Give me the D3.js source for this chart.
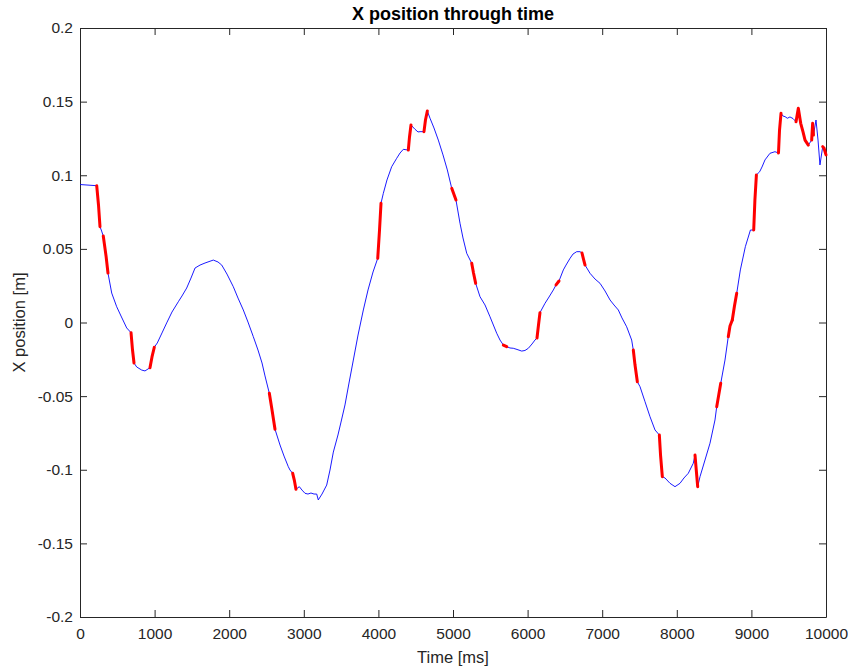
<!DOCTYPE html>
<html>
<head>
<meta charset="utf-8">
<script src="https://cdn.jsdelivr.net/npm/d3@7"></script>
<style>
  body { margin: 0; background: #fff; }
  svg { display: block; font-family: "Liberation Sans", Arial, Helvetica, sans-serif; }
</style>
</head>
<body>
<svg id="chart" width="848" height="670"></svg>
<script>
// Time samples [ms]
const timeMs = [0, 224, 248, 268, 290, 312, 349, 375, 425, 492, 550, 626, 684, 704, 724, 760, 827, 871, 938, 965, 996, 1036, 1099, 1162, 1233, 1318, 1367, 1430, 1488, 1542, 1609, 1676, 1787, 1850, 1900, 1970, 2055, 2118, 2189, 2252, 2323, 2386, 2440, 2480, 2538, 2574, 2614, 2681, 2735, 2792, 2815, 2851, 2875, 2895, 2940, 2976, 3016, 3056, 3096, 3137, 3173, 3194, 3244, 3307, 3351, 3396, 3458, 3499, 3552, 3606, 3664, 3727, 3798, 3861, 3928, 3991, 4015, 4035, 4066, 4115, 4178, 4245, 4290, 4334, 4401, 4417, 4437, 4491, 4531, 4558, 4611, 4631, 4656, 4692, 4745, 4803, 4866, 4924, 4983, 5040, 5094, 5134, 5184, 5251, 5275, 5304, 5362, 5429, 5496, 5586, 5630, 5675, 5720, 5764, 5808, 5858, 5921, 5965, 6010, 6059, 6099, 6126, 6146, 6166, 6233, 6287, 6345, 6381, 6421, 6479, 6515, 6569, 6609, 6658, 6703, 6729, 6749, 6770, 6837, 6904, 6971, 7038, 7105, 7158, 7216, 7265, 7328, 7395, 7417, 7440, 7471, 7507, 7574, 7641, 7708, 7766, 7782, 7806, 7842, 7909, 7976, 8043, 8096, 8154, 8221, 8244, 8261, 8280, 8311, 8378, 8445, 8512, 8535, 8562, 8589, 8646, 8690, 8713, 8744, 8773, 8803, 8852, 8919, 8987, 9031, 9047, 9067, 9111, 9142, 9182, 9249, 9316, 9363, 9377, 9397, 9424, 9451, 9482, 9517, 9558, 9598, 9629, 9661, 9692, 9719, 9763, 9808, 9821, 9832, 9866, 9893, 9919, 9956, 9973, 10000];

// X position [m]
const xPosition = [0.0937, 0.0929, 0.0798, 0.0651, 0.0621, 0.0587, 0.0452, 0.0336, 0.0200, 0.0107, 0.0044, -0.0037, -0.0069, -0.0187, -0.0275, -0.0302, -0.0323, -0.0329, -0.0307, -0.0234, -0.0168, -0.0139, -0.0071, -0.0003, 0.0071, 0.0141, 0.0180, 0.0234, 0.0302, 0.0370, 0.0390, 0.0404, 0.0424, 0.0411, 0.0390, 0.0329, 0.0243, 0.0166, 0.0085, 0.0003, -0.0096, -0.0187, -0.0275, -0.0363, -0.0481, -0.0594, -0.0725, -0.0832, -0.0907, -0.0979, -0.1002, -0.1024, -0.1076, -0.1133, -0.1115, -0.1138, -0.1160, -0.1165, -0.1158, -0.1165, -0.1165, -0.1205, -0.1165, -0.1104, -0.1002, -0.0880, -0.0764, -0.0676, -0.0560, -0.0411, -0.0255, -0.0085, 0.0085, 0.0221, 0.0343, 0.0436, 0.0628, 0.0810, 0.0877, 0.0968, 0.1058, 0.1115, 0.1151, 0.1176, 0.1171, 0.1260, 0.1341, 0.1312, 0.1294, 0.1296, 0.1296, 0.1375, 0.1436, 0.1387, 0.1321, 0.1239, 0.1138, 0.1036, 0.0911, 0.0832, 0.0674, 0.0574, 0.0470, 0.0402, 0.0336, 0.0266, 0.0175, 0.0119, 0.0039, -0.0073, -0.0119, -0.0153, -0.0164, -0.0173, -0.0175, -0.0183, -0.0194, -0.0190, -0.0175, -0.0146, -0.0119, -0.0105, -0.0017, 0.0067, 0.0130, 0.0173, 0.0221, 0.0255, 0.0282, 0.0357, 0.0390, 0.0436, 0.0465, 0.0481, 0.0481, 0.0472, 0.0431, 0.0390, 0.0334, 0.0295, 0.0266, 0.0214, 0.0153, 0.0119, 0.0085, 0.0031, -0.0029, -0.0119, -0.0187, -0.0289, -0.0402, -0.0436, -0.0538, -0.0640, -0.0730, -0.0764, -0.0900, -0.1047, -0.1056, -0.1092, -0.1115, -0.1092, -0.1056, -0.1024, -0.0956, -0.0900, -0.1002, -0.1115, -0.1047, -0.0934, -0.0820, -0.0662, -0.0572, -0.0492, -0.0413, -0.0255, -0.0096, -0.0024, 0.0017, 0.0112, 0.0198, 0.0357, 0.0515, 0.0628, 0.0628, 0.0832, 0.1002, 0.1024, 0.1056, 0.1104, 0.1149, 0.1160, 0.1151, 0.1307, 0.1421, 0.1402, 0.1398, 0.1387, 0.1396, 0.1385, 0.1364, 0.1455, 0.1353, 0.1294, 0.1239, 0.1205, 0.1239, 0.1353, 0.1273, 0.1375, 0.1239, 0.1070, 0.1194, 0.1185, 0.1138];

// Highlighted (red) intervals [ms]
const highlightStart = [224, 312, 684, 938, 2538, 2851, 3991, 4401, 4611, 4983, 5251, 5675, 6126, 6381, 6729, 7417, 7766, 8244, 8535, 8690, 8744, 9031, 9363, 9598, 9808, 9956];
const highlightEnd   = [268, 375, 724, 996, 2614, 2895, 4035, 4437, 4656, 5040, 5304, 5720, 6166, 6421, 6770, 7471, 7806, 8280, 8589, 8744, 8803, 9067, 9397, 9763, 9832, 10000];

// Axis ticks
const xTicks = [0, 1000, 2000, 3000, 4000, 5000, 6000, 7000, 8000, 9000, 10000];
const yTicks = [-0.2, -0.15, -0.1, -0.05, 0, 0.05, 0.1, 0.15, 0.2];
const yTickLabels = ["-0.2", "-0.15", "-0.1", "-0.05", "0", "0.05", "0.1", "0.15", "0.2"];

const titleText = "X position through time";
const xLabelText = "Time [ms]";
const yLabelText = "X position [m]";

const W = 848, H = 670;
const margin = { left: 80, right: 22, top: 28, bottom: 53 };
const svg = d3.select("#chart");

const x = d3.scaleLinear().domain([0, 10000]).range([margin.left, W - margin.right]);
const y = d3.scaleLinear().domain([-0.2, 0.2]).range([H - margin.bottom, margin.top]);

const axisColor = "#262626";
const fontSize = "15.5px";

function styleAxis(g) {
  g.select(".domain").attr("stroke", axisColor).attr("stroke-width", 1);
  g.selectAll(".tick line").attr("stroke", axisColor).attr("stroke-width", 1);
  g.selectAll(".tick text").attr("fill", axisColor).style("font-size", fontSize)
    .style("font-family", '"Liberation Sans", Arial, sans-serif');
}

// Bottom
svg.append("g").attr("transform", `translate(0,${y(-0.2)})`)
  .call(d3.axisBottom(x).tickValues(xTicks).tickSizeInner(-7).tickSizeOuter(0).tickPadding(11).tickFormat(d3.format("d")))
  .call(styleAxis);
// Top
svg.append("g").attr("transform", `translate(0,${y(0.2)})`)
  .call(d3.axisTop(x).tickValues(xTicks).tickSizeInner(-7).tickSizeOuter(0).tickFormat(""))
  .call(styleAxis);
// Left
svg.append("g").attr("transform", `translate(${x(0)},0)`)
  .call(d3.axisLeft(y).tickValues(yTicks).tickSizeInner(-7).tickSizeOuter(0).tickPadding(7)
    .tickFormat((d, i) => yTickLabels[i]))
  .call(styleAxis);
// Right
svg.append("g").attr("transform", `translate(${x(10000)},0)`)
  .call(d3.axisRight(y).tickValues(yTicks).tickSizeInner(-7).tickSizeOuter(0).tickFormat(""))
  .call(styleAxis);

const data = timeMs.map((t, i) => ({ t, v: xPosition[i] }));
const line = d3.line().x(d => x(d.t)).y(d => y(d.v));

svg.append("path").datum(data)
  .attr("d", line)
  .attr("fill", "none")
  .attr("stroke", "#0000ff")
  .attr("stroke-width", 0.9)
  .attr("stroke-linejoin", "round");

highlightStart.forEach((s, i) => {
  const e = highlightEnd[i];
  const seg = data.filter(d => d.t >= s && d.t <= e);
  svg.append("path").datum(seg)
    .attr("d", line)
    .attr("fill", "none")
    .attr("stroke", "#ff0000")
    .attr("stroke-width", 3)
    .attr("stroke-linejoin", "round")
    .attr("stroke-linecap", "round");
});

// Title & labels
svg.append("text")
  .attr("x", (x(0) + x(10000)) / 2).attr("y", 20)
  .attr("text-anchor", "middle")
  .style("font-size", "18px").style("font-weight", "bold")
  .attr("fill", "#000")
  .text(titleText);

svg.append("text")
  .attr("x", (x(0) + x(10000)) / 2).attr("y", 663)
  .attr("text-anchor", "middle")
  .style("font-size", "16.5px")
  .attr("fill", axisColor)
  .text(xLabelText);

svg.append("text")
  .attr("transform", `translate(25,${(y(0.2) + y(-0.2)) / 2}) rotate(-90)`)
  .attr("text-anchor", "middle")
  .style("font-size", "16.5px")
  .attr("fill", axisColor)
  .text(yLabelText);
</script>
</body>
</html>
